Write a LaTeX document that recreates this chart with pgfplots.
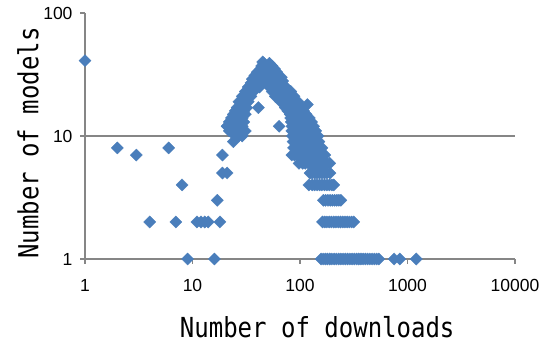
\documentclass[border=0pt]{standalone}
\usepackage{pgfplots}
\pgfplotsset{compat=1.18}
\usepackage{fontspec}
\setmainfont{Liberation Sans}
\newfontfamily\mono{DejaVu Sans Mono}
\definecolor{ser}{HTML}{4A7EBB}
\definecolor{axgray}{HTML}{868686}
\begin{document}
\begin{tikzpicture}
\begin{axis}[
  scale only axis, width=430pt, height=246pt,
  xmode=log, ymode=log,
  xmin=1, xmax=10000, ymin=1, ymax=100,
  axis x line*=bottom, axis y line*=left,
  axis line style={axgray, line width=1.5pt, -},
  every outer x axis line/.append style={-},
  every outer y axis line/.append style={-},
  xtick={1,10,100,1000,10000}, xticklabels={1,10,100,1000,10000},
  ytick={1,10,100}, yticklabels={1,10,100},
  xminorticks=false, yminorticks=false,
  tick align=outside, major tick length=5pt,
  tick style={axgray, line width=1.5pt},
  every tick label/.append style={font=\fontsize{17.5}{20}\selectfont, text=black},
  xticklabel style={yshift=-12pt},
  yticklabel style={xshift=-4pt},
  clip=false,
]
\draw[axgray, line width=1.5pt] (axis cs:1,10) -- (axis cs:10000,10);
\addplot[only marks, mark=square*, mark size=4.3pt,
  mark options={rotate=45, fill=ser, draw=ser, line width=0.3pt}] coordinates {
(1,41) (2,8) (3,7) (4,2) (6,8) (7,2) (8,4) (9,1) (11,2) (12,2) (13,2) (14,2)
(16,1) (17,3) (18,2) (19,5) (19,7) (21,5) (21,12) (24,9)
(25,10) (27,10) (29,10)
(22,11) (25,11) (28,11) (31,11)
(21,12) (23,12) (26,12) (29,12)
(22,13) (24,13) (27,13) (30,13)
(23,14) (26,14) (29,14)
(24,15) (27,15) (31,15)
(25,16) (28,16) (30,16)
(26,17) (29,17) (32,17)
(27,19) (30,19) (33,19)
(29,21) (32,21) (35,21)
(31,23) (34,23) (37,23)
(33,25) (36,25) (39,25) (42,25)
(35,27) (38,27) (41,27) (45,27)
(36,29) (40,29) (44,29) (49,29)
(38,31) (42,31) (47,31) (52,31) (57,31)
(40,33) (45,33) (50,33) (55,33) (61,33)
(43,35) (48,35) (53,35) (58,35)
(44,37) (50,37) (55,37)
(46,39) (52,39)
(45,40)
(41,17) (64,12) (117,18)
(50,28) (54,28) (59,28) (64,28) (69,28)
(58,30) (63,30) (67,30)
(48,27) (52,27) (56,27) (60,27) (65,27)
(52,25) (56,25) (60,25) (65,25) (70,25) (74,25)
(55,23) (59,23) (63,23) (68,23) (73,23) (78,23) (82,23)
(59,21) (63,21) (68,21) (73,21) (78,21) (83,21) (88,21)
(66,19) (70,19) (75,19) (80,19) (85,19) (90,19) (96,19)
(73,17) (78,17) (83,17) (88,17) (94,17) (100,17) (104,17)
(77,16) (82,16) (87,16) (92,16) (98,16) (104,16) (108,16)
(81,15) (86,15) (91,15) (96,15) (102,15) (108,15) (114,15)
(82,14) (87,14) (92,14) (98,14) (104,14) (110,14) (117,14) (122,14)
(83,13) (88,13) (94,13) (100,13) (106,13) (113,13) (120,13) (128,13)
(84,12) (89,12) (95,12) (101,12) (108,12) (115,12) (122,12) (130,12) (134,12)
(84,11) (89,11) (95,11) (101,11) (108,11) (115,11) (122,11) (130,11) (136,11) (140,11)
(85,10) (90,10) (96,10) (102,10) (109,10) (116,10) (123,10) (131,10) (139,10) (147,10)
(86,9) (91,9) (97,9) (103,9) (110,9) (117,9) (124,9) (132,9) (140,9) (150,9)
(87,8) (92,8) (98,8) (104,8) (111,8) (118,8) (125,8) (133,8) (141,8) (150,8) (160,8)
(84,7) (89,7) (95,7) (101,7) (107,7) (114,7) (121,7) (128,7) (136,7) (144,7) (153,7) (162,7) (170,7)
(98,6) (106,6) (112,6) (119,6) (126,6) (133,6) (141,6) (149,6) (158,6) (168,6) (178,6) (189,6)
(124,5) (130,5) (137,5) (144,5) (152,5) (160,5) (169,5) (178,5) (190,5)
(121,4) (130,4) (137,4) (144,4) (152,4) (160,4) (169,4) (178,4) (188,4) (198,4) (206,4)
(165,3) (173,3) (182,3) (191,3) (200,3) (210,3) (220,3) (230,3) (240,3)
(162,2) (170,2) (178,2) (187,2) (196,2) (206,2) (216,2) (227,2) (238,2) (250,2) (262,2) (275,2) (288,2) (302,2) (316,2)
(157,1) (164,1) (172,1) (180,1) (189,1) (198,1) (208,1) (218,1) (229,1) (240,1) (252,1) (264,1) (277,1) (291,1) (305,1) (320,1) (336,1) (352,1) (369,1) (387,1) (406,1) (426,1) (447,1) (469,1) (492,1) (516,1) (541,1) (751,1) (848,1) (1206,1)
};
\node[rotate=90, font=\mono\fontsize{24}{26}\selectfont] at (axis description cs:-0.1326,0.4715) {\scalebox{1}[1.15]{Number of models}};
\node[font=\mono\fontsize{24}{26}\selectfont] at (axis description cs:0.54,-0.276) {\scalebox{1}[1.15]{Number of downloads}};
\end{axis}
\pgfresetboundingbox
\path ([shift={(-85pt,-85pt)}]current axis.south west) rectangle ([shift={(29pt,13pt)}]current axis.north east);
\end{tikzpicture}
\end{document}
